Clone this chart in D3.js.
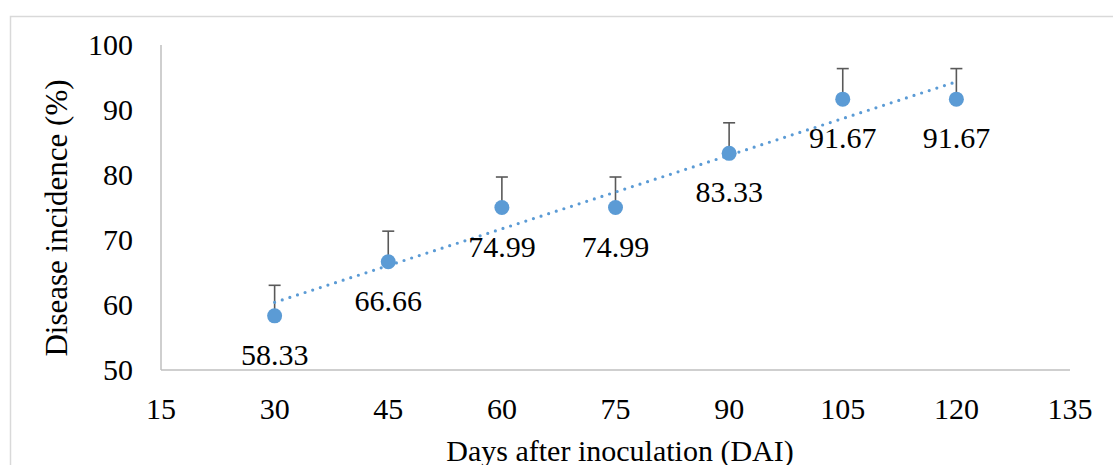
<!DOCTYPE html>
<html>
<head>
<meta charset="utf-8">
<script src="https://cdn.jsdelivr.net/npm/d3@7"></script>
<style>
  html, body { margin: 0; padding: 0; background: #fff; }
  svg { display: block; }
</style>
</head>
<body>
<svg id="chart" width="1113" height="465"></svg>
<script>
// values
const days = [30, 45, 60, 75, 90, 105, 120];
const incidence = [58.33, 66.66, 74.99, 74.99, 83.33, 91.67, 91.67];
const errorUp = [4.7, 4.7, 4.7, 4.7, 4.7, 4.7, 4.7];
const xTicks = [15, 30, 45, 60, 75, 90, 105, 120, 135];
const yTicks = [50, 60, 70, 80, 90, 100];

const serif = "'Liberation Serif', 'Times New Roman', serif";
const svg = d3.select('#chart').attr('font-family', serif);

// outer chart border (right and bottom run off the picture)
svg.append('rect')
  .attr('x', 10.5).attr('y', 16.5)
  .attr('width', 1120).attr('height', 470)
  .attr('fill', 'none')
  .attr('stroke', '#d9d9d9')
  .attr('stroke-width', 1.5);

const x = d3.scaleLinear().domain([15, 135]).range([161, 1070]);
const y = d3.scaleLinear().domain([50, 100]).range([370, 45]);

const data = days.map((d, i) => ({ day: d, value: incidence[i], err: errorUp[i] }));

// axes lines
svg.append('line')
  .attr('x1', x(15)).attr('x2', x(15))
  .attr('y1', y(100)).attr('y2', y(50))
  .attr('stroke', '#bfbfbf').attr('stroke-width', 1.5);
svg.append('line')
  .attr('x1', x(15)).attr('x2', x(135))
  .attr('y1', y(50)).attr('y2', y(50))
  .attr('stroke', '#bfbfbf').attr('stroke-width', 1.5);

// tick labels
svg.append('g')
  .selectAll('text')
  .data(yTicks)
  .enter()
  .append('text')
  .attr('x', 133)
  .attr('y', d => y(d) + 10)
  .attr('text-anchor', 'end')
  .attr('font-size', 30)
  .text(d => d);

svg.append('g')
  .selectAll('text')
  .data(xTicks)
  .enter()
  .append('text')
  .attr('x', d => x(d))
  .attr('y', 419)
  .attr('text-anchor', 'middle')
  .attr('font-size', 30)
  .text(d => d);

// axis titles
svg.append('text')
  .attr('x', 620)
  .attr('y', 461)
  .attr('text-anchor', 'middle')
  .attr('font-size', 30)
  .text('Days after inoculation (DAI)');

svg.append('text')
  .attr('transform', 'translate(67, 218) rotate(-90)')
  .attr('text-anchor', 'middle')
  .attr('font-size', 31)
  .text('Disease incidence (%)');

// error bars (plus direction only)
const eb = svg.append('g').attr('stroke', '#595959').attr('stroke-width', 1.6);
eb.selectAll('line.v')
  .data(data)
  .enter()
  .append('line')
  .attr('class', 'v')
  .attr('x1', d => x(d.day)).attr('x2', d => x(d.day))
  .attr('y1', d => y(d.value)).attr('y2', d => y(d.value + d.err));
eb.selectAll('line.cap')
  .data(data)
  .enter()
  .append('line')
  .attr('class', 'cap')
  .attr('x1', d => x(d.day) - 6).attr('x2', d => x(d.day) + 6)
  .attr('y1', d => y(d.value + d.err)).attr('y2', d => y(d.value + d.err));

// markers
svg.append('g')
  .selectAll('circle')
  .data(data)
  .enter()
  .append('circle')
  .attr('cx', d => x(d.day))
  .attr('cy', d => y(d.value))
  .attr('r', 7.5)
  .attr('fill', '#5b9bd5');

// linear trendline (least squares, like the spreadsheet)
const mx = d3.mean(days), my = d3.mean(incidence);
const slope = d3.sum(data, d => (d.day - mx) * (d.value - my)) /
              d3.sum(data, d => (d.day - mx) ** 2);
const icpt = my - slope * mx;
const ends = d3.extent(days);
svg.append('line')
  .attr('x1', x(ends[0])).attr('y1', y(icpt + slope * ends[0]))
  .attr('x2', x(ends[1])).attr('y2', y(icpt + slope * ends[1]))
  .attr('stroke', '#5b9bd5')
  .attr('stroke-width', 3.2)
  .attr('stroke-linecap', 'round')
  .attr('stroke-dasharray', '0,8');

// data labels below the points
svg.append('g')
  .selectAll('text')
  .data(data)
  .enter()
  .append('text')
  .attr('x', d => x(d.day))
  .attr('y', d => y(d.value) + 49)
  .attr('text-anchor', 'middle')
  .attr('font-size', 30)
  .text(d => d.value.toFixed(2));
</script>
</body>
</html>
